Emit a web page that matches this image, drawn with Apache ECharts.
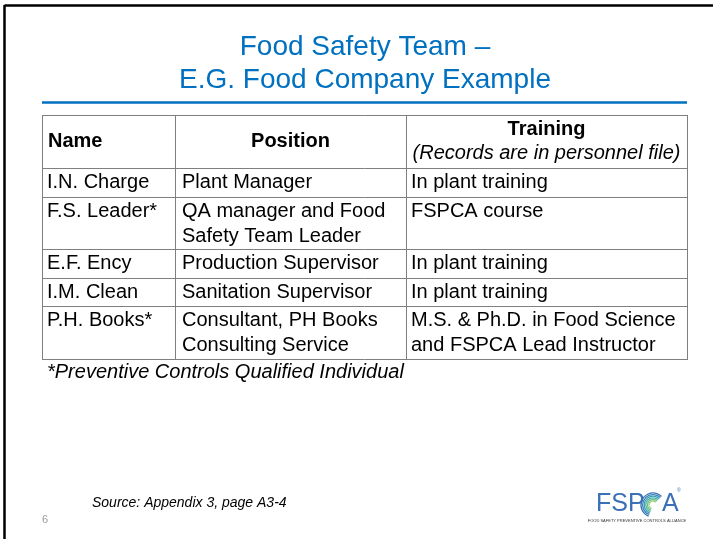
<!DOCTYPE html>
<html><head><meta charset="utf-8">
<script src="https://cdn.jsdelivr.net/npm/echarts@6/dist/echarts.min.js"></script>
<style>html,body{margin:0;padding:0;background:#fff}#c{width:713px;height:539px}</style>
</head><body><div id="c"></div>
<script>
const titleLines = ["Food Safety Team \u2013", "E.G. Food Company Example"];
const headers = ["Name", "Position", "Training"];
const headerSub = "(Records are in personnel file)";
const names = ["I.N. Charge", "F.S. Leader*", "E.F. Ency", "I.M. Clean", "P.H. Books*"];
const positions = ["Plant Manager", "QA manager and Food\nSafety Team Leader", "Production Supervisor", "Sanitation Supervisor", "Consultant, PH Books\nConsulting Service"];
const training = ["In plant training", "FSPCA course", "In plant training", "In plant training", "M.S. & Ph.D. in Food Science\nand FSPCA Lead Instructor"];
const footnote = "*Preventive Controls Qualified Individual";
const source = "Source: Appendix 3, page A3-4";
const pageNo = "6";

const FONT = '"Liberation Sans", Arial, sans-serif';
const chart = echarts.init(document.getElementById('c'), null, {renderer: 'canvas'});
const els = [];
const colX = [42, 175, 406, 687];
const tableTop = 115, headerH = 53, lineH = 24;
const rowH = n => 4.5 + lineH * n;

// frame
els.push({type: 'line', shape: {x1: 4.5, y1: 5.5, x2: 713, y2: 5.5}, style: {stroke: '#000', lineWidth: 2.5}});
els.push({type: 'line', shape: {x1: 4.5, y1: 5, x2: 4.5, y2: 539}, style: {stroke: '#000', lineWidth: 2.5}});

// title
titleLines.forEach((t, i) => els.push({type: 'text', x: 365, y: 47 + 33 * i,
  style: {text: t, font: '28px ' + FONT, fill: '#0070C0', align: 'center', verticalAlign: 'middle'}}));
els.push({type: 'line', shape: {x1: 42, y1: 102.5, x2: 687, y2: 102.5}, style: {stroke: '#0070C0', lineWidth: 2.5}});

// table rows
const rowsY = [tableTop, tableTop + headerH];
const cols = [names, positions, training];
names.forEach((n, r) => {
  const nl = Math.max(...cols.map(c => c[r].split('\n').length));
  rowsY.push(rowsY[rowsY.length - 1] + rowH(nl));
});
const tableBottom = rowsY[rowsY.length - 1];
const gridStroke = '#7f7f7f';
rowsY.forEach(y => els.push({type: 'line', shape: {x1: colX[0], y1: Math.round(y) + 0.5, x2: colX[3], y2: Math.round(y) + 0.5}, style: {stroke: gridStroke, lineWidth: 1}}));
colX.forEach(x => els.push({type: 'line', shape: {x1: x + 0.5, y1: tableTop, x2: x + 0.5, y2: Math.round(tableBottom) + 1}, style: {stroke: gridStroke, lineWidth: 1}}));

// header
const hMid = tableTop + headerH / 2;
els.push({type: 'text', x: colX[0] + 6, y: hMid, style: {text: headers[0], font: 'bold 20px ' + FONT, fill: '#000', align: 'left', verticalAlign: 'middle'}});
els.push({type: 'text', x: (colX[1] + colX[2]) / 2, y: hMid, style: {text: headers[1], font: 'bold 20px ' + FONT, fill: '#000', align: 'center', verticalAlign: 'middle'}});
els.push({type: 'text', x: (colX[2] + colX[3]) / 2, y: hMid - 12, style: {text: headers[2], font: 'bold 20px ' + FONT, fill: '#000', align: 'center', verticalAlign: 'middle'}});
els.push({type: 'text', x: (colX[2] + colX[3]) / 2, y: hMid + 12, style: {text: headerSub, font: 'italic 20px ' + FONT, fill: '#000', align: 'center', verticalAlign: 'middle'}});

// body cells
const padX = [5, 7, 5];
names.forEach((n, r) => {
  cols.forEach((c, ci) => {
    c[r].split('\n').forEach((ln, li) => {
      els.push({type: 'text', x: colX[ci] + padX[ci], y: rowsY[r + 1] + 14.5 + 25 * li,
        style: {text: ln, font: '20px ' + FONT, fill: '#000', align: 'left', verticalAlign: 'middle'}});
    });
  });
});

// footnote
els.push({type: 'text', x: 47, y: tableBottom + 14, style: {text: footnote, font: 'italic 20px ' + FONT, fill: '#000', align: 'left', verticalAlign: 'middle'}});
// source
els.push({type: 'text', x: 92, y: 503, style: {text: source, font: 'italic 14px ' + FONT, fill: '#000', align: 'left', verticalAlign: 'middle'}});
els.push({type: 'text', x: 42, y: 520, style: {text: pageNo, font: '11px ' + FONT, fill: '#9a9a9a', align: 'left', verticalAlign: 'middle'}});

// logo
const logoBlue = '#3b6fb6';
els.push({type: 'text', x: 596, y: 504, style: {text: 'FSP', font: '25px ' + FONT, fill: logoBlue, align: 'left', verticalAlign: 'middle'}});
const arcCols = ['#3b6fb6', '#3a86b8', '#3a9fb4', '#48b3a4', '#6cc08c', '#95cc6e'];
arcCols.forEach((col, i) => els.push({type: 'arc', shape: {cx: 653, cy: 505, r: 12 - i * 1.6, startAngle: Math.PI * 0.62, endAngle: Math.PI * 1.75}, style: {stroke: col, lineWidth: 1.3, fill: null}}));
els.push({type: 'text', x: 662, y: 504, style: {text: 'A', font: '25px ' + FONT, fill: logoBlue, align: 'left', verticalAlign: 'middle'}});
els.push({type: 'text', x: 677, y: 491, style: {text: '\u00ae', font: '5px ' + FONT, fill: logoBlue, align: 'left', verticalAlign: 'middle'}});
els.push({type: 'text', x: 637, y: 521, style: {text: 'FOOD SAFETY PREVENTIVE CONTROLS ALLIANCE', font: '4px ' + FONT, fill: '#333', align: 'center', verticalAlign: 'middle'}});

chart.setOption({backgroundColor: '#fff', animation: false, graphic: {elements: els}});
</script></body></html>
